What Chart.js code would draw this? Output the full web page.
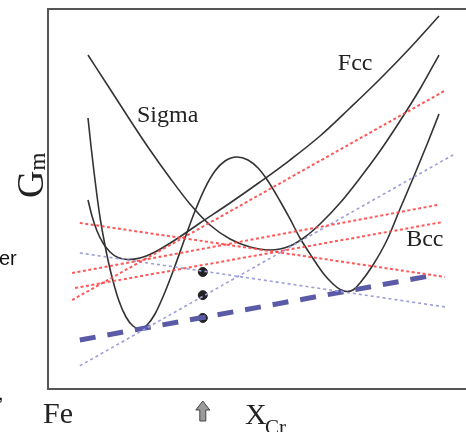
<!DOCTYPE html>
<html><head><meta charset="utf-8">
<script src="https://cdn.jsdelivr.net/npm/chart.js@4"></script>
<style>html,body{margin:0;padding:0;overflow:hidden;background:#fff;width:466px;height:432px}canvas{display:block}</style>
</head><body><canvas id="c" width="486" height="432"></canvas>
<script>
// Composition axis (0 = Fe at left frame), Gibbs energy (arbitrary units)
const sigmaX=[9.30,14.42,19.07,23.72,28.37,33.02,37.67,42.33,46.98,51.63,56.28,59.77,63.26,67.91,72.56,77.21,81.86,86.51,90.93];
const sigmaY=[87.89,78.95,70.79,62.89,55.53,48.68,43.16,39.47,37.37,36.58,37.63,40.0,43.42,48.95,55.53,62.63,70.53,78.95,87.89];
const fccX=[9.30,10.23,11.40,12.79,14.42,16.28,18.60,21.40,24.88,29.53,35.35,42.33,49.30,56.28,63.26,70.23,77.21,84.19,90.93];
const fccY=[49.74,45.53,41.58,38.42,36.05,34.61,34.08,34.47,36.05,39.21,43.68,48.95,54.47,60.26,66.58,73.95,81.58,89.74,98.16];
const bccX=[9.30,10.00,10.70,11.40,12.09,13.02,13.95,15.12,16.51,18.14,19.77,21.40,23.02,24.88,27.21,29.53,31.86,34.19,36.51,38.84,41.16,43.95,46.51,48.84,51.16,53.95,56.28,58.60,61.40,63.95,66.28,68.14,69.53,70.93,72.56,75.58,78.84,81.86,85.12,88.37,90.93];
const bccY=[71.32,63.95,57.11,50.79,45.26,39.21,33.95,28.42,23.16,18.95,16.58,15.79,16.84,19.74,25.53,32.37,39.74,46.84,52.89,57.37,60.0,61.05,60.26,58.16,54.74,49.47,44.74,39.74,34.74,30.53,27.63,26.05,25.66,26.05,27.89,32.63,39.21,47.37,56.05,65.0,72.37];
// tangent / chemical-potential lines: [x0, x1], [y0, y1]
const redA_X=[5.6,92.6], redA_Y=[23.4,78.7];
const redB_X=[5.6,90.5], redB_Y=[30.5,48.4];
const redC_X=[6.3,91.6], redC_Y=[26.6,43.9];
const redD_X=[7.4,92.3], redD_Y=[43.7,29.5];
const blue1_X=[7.4,92.3], blue1_Y=[35.8,21.6];
const blue2_X=[7.4,94.2], blue2_Y=[6.1,61.6];
const tieX=[7.4,90.0], tieY=[12.9,30.0];
const dotX=[36.0,36.0,36.0], dotY=[30.8,24.7,18.7];
const phaseLabels=['Sigma','Fcc','Bcc'];
const labelX=[20.7,67.4,83.3], labelY=[70.3,83.9,37.6];

const pts=(xs,ys)=>xs.map((v,i)=>({x:v,y:ys[i]}));
const redStyle={borderColor:'rgba(255,70,70,0.9)',borderWidth:2,borderDash:[3,2.5]};
const blueStyle={borderColor:'#9d9ddb',borderWidth:1.6,borderDash:[3,3]};
const curveStyle={borderColor:'#333',borderWidth:1.6,cubicInterpolationMode:'monotone'};
const ds=(xs,ys,st)=>Object.assign({data:pts(xs,ys),showLine:true,pointRadius:0,fill:false},st);

const decor={id:'decor',
 afterDraw(chart){
  const {ctx,chartArea:a,scales:{x,y}}=chart;
  ctx.save();
  ctx.strokeStyle='#555';ctx.lineWidth=2;
  ctx.strokeRect(a.left,a.top,a.right-a.left,a.bottom-a.top);
  ctx.fillStyle='#222';ctx.textBaseline='alphabetic';ctx.textAlign='left';
  ctx.font='24px "Liberation Serif"';
  phaseLabels.forEach((t,i)=>ctx.fillText(t,x.getPixelForValue(labelX[i]),y.getPixelForValue(labelY[i])));
  // x-axis texts
  ctx.font='30px "Liberation Serif"';
  ctx.fillText('Fe',a.left-5,a.bottom+34);
  ctx.fillText('X',a.left+197,a.bottom+35);
  ctx.font='21px "Liberation Serif"';
  ctx.fillText('Cr',a.left+217,a.bottom+45);
  // y-axis title
  ctx.save();ctx.translate(a.left-5,a.top+189);ctx.rotate(-Math.PI/2);
  ctx.font='38px "Liberation Serif"';ctx.fillText('G',0,0);
  const gw=ctx.measureText('G').width;
  ctx.font='23px "Liberation Serif"';ctx.fillText('m',gw,2);
  ctx.restore();
  // arrow below the marked composition
  const ax=x.getPixelForValue(dotX[0]);const t=a.bottom+12,b=a.bottom+32;
  ctx.beginPath();ctx.moveTo(ax,t);ctx.lineTo(ax+7,t+9);ctx.lineTo(ax+3,t+9);ctx.lineTo(ax+3,b);
  ctx.lineTo(ax-3,b);ctx.lineTo(ax-3,t+9);ctx.lineTo(ax-7,t+9);ctx.closePath();
  ctx.fillStyle='#9a9a9a';ctx.fill();ctx.strokeStyle='#444';ctx.lineWidth=1;ctx.stroke();
  // fragments of surrounding page text
  ctx.fillStyle='#111';ctx.font='20px "Liberation Sans"';
  ctx.fillText('er',-1,265);ctx.fillText(',',-2,400);ctx.fillText('.',-2,436);
  ctx.restore();
 }};

new Chart(document.getElementById('c'),{
 type:'scatter',
 data:{datasets:[
  ds(redA_X,redA_Y,redStyle),ds(redB_X,redB_Y,redStyle),ds(redC_X,redC_Y,redStyle),ds(redD_X,redD_Y,redStyle),
  ds(blue1_X,blue1_Y,blueStyle),ds(blue2_X,blue2_Y,blueStyle),
  ds(tieX,tieY,{borderColor:'#5a5aa6',borderWidth:5,borderDash:[16,12]}),
  ds(sigmaX,sigmaY,curveStyle),ds(fccX,fccY,curveStyle),ds(bccX,bccY,curveStyle),
  {data:pts(dotX,dotY),pointRadius:4.5,pointBackgroundColor:'#222',pointBorderColor:'#222',showLine:false}
 ]},
 options:{responsive:false,animation:false,
  layout:{padding:{left:48,top:9,right:8,bottom:43}},
  plugins:{legend:{display:false},tooltip:{enabled:false}},
  scales:{x:{type:'linear',min:0,max:100,display:false},y:{type:'linear',min:0,max:100,display:false}}
 },
 plugins:[decor]
});
</script></body></html>
